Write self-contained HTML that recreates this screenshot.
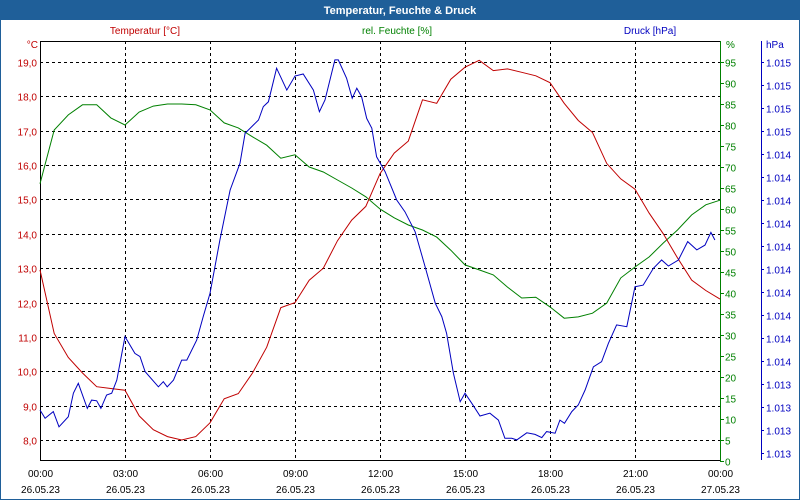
<!DOCTYPE html>
<html><head><meta charset="utf-8"><style>
html,body{margin:0;padding:0;background:#fff;}
svg{display:block;font-family:"Liberation Sans",sans-serif;}
</style></head><body>
<svg id="chart" width="800" height="500" xmlns="http://www.w3.org/2000/svg">
<rect x="0" y="0" width="800" height="500" fill="#fff"/>
<rect x="0.5" y="0.5" width="799" height="499" fill="none" stroke="#1f5f99"/>
<rect x="0" y="0" width="800" height="20" fill="#1f5f99"/>
<text x="400" y="14" text-anchor="middle" font-size="11" font-weight="bold" fill="#fff">Temperatur, Feuchte &amp; Druck</text>
<text x="145" y="34" text-anchor="middle" font-size="10" fill="#c00000">Temperatur [°C]</text>
<text x="397" y="34" text-anchor="middle" font-size="10" fill="#008000">rel. Feuchte [%]</text>
<text x="650" y="34" text-anchor="middle" font-size="10" fill="#0000c0">Druck [hPa]</text>
<text x="38" y="48" text-anchor="end" font-size="10" fill="#c00000">°C</text>
<text x="726" y="48" font-size="10" fill="#008000">%</text>
<text x="766" y="48" font-size="10" fill="#0000c0">hPa</text>
<g id="grid"></g><g id="axes"></g><g id="series"></g>
</svg>
<script>
const tempValues=[12.95,11.1,10.4,9.95,9.55,9.5,9.45,8.7,8.3,8.1,8.0,8.1,8.5,9.2,9.35,9.95,10.7,11.85,12.0,12.65,13.0,13.8,14.4,14.8,15.75,16.35,16.7,17.9,17.8,18.5,18.85,19.05,18.75,18.8,18.7,18.6,18.4,17.8,17.3,16.95,16.05,15.6,15.3,14.6,14.0,13.3,12.65,12.35,12.1];
const humValues=[66,78.8,82.4,84.8,84.8,81.7,80,83.1,84.5,85,85,84.8,83.6,80.5,79.3,77.2,75.2,72.1,72.9,70,68.8,66.9,65,62.9,60,57.9,56.2,55,53.3,50.2,46.7,45.5,44.3,41.4,38.8,39,36.7,34,34.3,35.2,37.6,43.6,46.2,48.6,51.9,55,58.6,61,62.1];
const pressHours=[0,0.18,0.47,0.67,1,1.18,1.35,1.67,1.82,2,2.15,2.35,2.53,2.71,3,3.35,3.53,3.71,4.18,4.35,4.49,4.71,5,5.18,5.53,5.76,6,6.35,6.71,7.06,7.24,7.53,7.71,7.88,8.06,8.35,8.71,9,9.29,9.65,9.86,10.06,10.41,10.53,10.82,11.02,11.18,11.35,11.53,11.71,11.88,12.18,12.59,12.88,13.24,13.59,13.95,14.18,14.35,14.59,14.83,15,15.24,15.53,15.88,16.18,16.41,16.65,16.83,17.18,17.47,17.71,17.88,18.18,18.35,18.51,18.77,19,19.24,19.53,19.82,20.06,20.35,20.71,21,21.29,21.65,21.94,22.18,22.53,22.86,23.18,23.47,23.68,23.82];
const pressValues=[1013.287,1013.251,1013.28,1013.214,1013.258,1013.36,1013.403,1013.294,1013.33,1013.327,1013.294,1013.352,1013.36,1013.417,1013.606,1013.533,1013.519,1013.454,1013.388,1013.41,1013.388,1013.417,1013.504,1013.504,1013.591,1013.693,1013.794,1014.026,1014.243,1014.36,1014.49,1014.526,1014.548,1014.606,1014.627,1014.773,1014.678,1014.739,1014.748,1014.678,1014.584,1014.635,1014.809,1014.809,1014.729,1014.642,1014.686,1014.649,1014.555,1014.512,1014.388,1014.323,1014.2,1014.149,1014.062,1013.91,1013.751,1013.693,1013.62,1013.447,1013.323,1013.36,1013.316,1013.261,1013.273,1013.243,1013.164,1013.164,1013.157,1013.188,1013.181,1013.167,1013.193,1013.186,1013.243,1013.229,1013.28,1013.309,1013.374,1013.475,1013.497,1013.577,1013.657,1013.649,1013.823,1013.83,1013.903,1013.939,1013.913,1013.939,1014.019,1013.983,1014.004,1014.059,1014.026];
const tempTicks=[8,9,10,11,12,13,14,15,16,17,18,19];
const humTicks=[0,5,10,15,20,25,30,35,40,45,50,55,60,65,70,75,80,85,90,95];
const pressTicks=[1013.1,1013.2,1013.3,1013.4,1013.5,1013.6,1013.7,1013.8,1013.9,1014.0,1014.1,1014.2,1014.3,1014.4,1014.5,1014.6,1014.7,1014.8];
const timeLabels=["00:00","03:00","06:00","09:00","12:00","15:00","18:00","21:00","00:00"];
const dateLabels=["26.05.23","26.05.23","26.05.23","26.05.23","26.05.23","26.05.23","26.05.23","26.05.23","27.05.23"];

const L=40,R=720,T=41,B=460;
const xH=h=>L+h*(R-L)/24;
const yT=t=>440-(t-8)*34.36;
const yH=v=>461-v*4.2;
const yP=p=>453-(p-1013.1)*230;
const NS="http://www.w3.org/2000/svg";
function mk(tag,attrs,parent){const e=document.createElementNS(NS,tag);for(const k in attrs)e.setAttribute(k,attrs[k]);parent.appendChild(e);return e;}
const grid=document.getElementById('grid'),axes=document.getElementById('axes'),series=document.getElementById('series');

tempTicks.forEach(t=>{
  const y=Math.round(yT(t))+0.5;
  const g=mk('line',{x1:L,x2:R,y1:y,y2:y,stroke:'#000','stroke-dasharray':'3,3','stroke-width':1},grid);
  
  
  const tx=mk('text',{x:37,y:y+4,'text-anchor':'end','font-size':10,fill:'#c00000'},axes);
  tx.textContent=t.toFixed(1).replace('.',',');
  
  
});
timeLabels.forEach((s,i)=>{
  const x=Math.round(xH(i*3))+0.5;
  if(i>0&&i<8){const g=mk('line',{x1:x,x2:x,y1:T,y2:B,stroke:'#000','stroke-dasharray':'3,3'},grid);
  
  }
  const t1=mk('text',{x:x,y:477,'text-anchor':'middle','font-size':10,fill:'#000'},axes);
  t1.textContent=s;
  
  
  const t2=mk('text',{x:x,y:493,'text-anchor':'middle','font-size':10,fill:'#000'},axes);
  t2.textContent=dateLabels[i];
  
  
});
const box=mk('path',{d:`M${L+0.5},${B+0.5}V${T+0.5}H${R+0.5}M${L},${B+0.5}H${R}`,stroke:'#000',fill:'none'},axes);


const ha=mk('line',{x1:R+0.5,x2:R+0.5,y1:T,y2:B+1,stroke:'#008000'},axes);


humTicks.forEach(v=>{
  const y=Math.round(yH(v))+0.5;
  const tk=mk('line',{x1:R,x2:R+4,y1:y,y2:y,stroke:'#008000'},axes);
  
  
  const t=mk('text',{x:725,y:y+4,'font-size':10,fill:'#008000'},axes);
  t.textContent=v;
  
  
});
const pa=mk('line',{x1:761.5,x2:761.5,y1:T,y2:B,stroke:'#0000c0'},axes);


pressTicks.forEach(v=>{
  const y=Math.round(yP(v))+0.5;
  const tk=mk('line',{x1:761,x2:764,y1:y,y2:y,stroke:'#0000c0'},axes);
  
  
  const t=mk('text',{x:766,y:y+4,'font-size':10,fill:'#0000c0'},axes);
  t.textContent='1.'+String(Math.round(v)).slice(1);
  
  
});
function line(xs,ys,color,name){
  const d=xs.map((x,i)=>(i?'L':'M')+x.toFixed(1)+','+ys[i].toFixed(1)).join('');
  const p=mk('path',{d:d,stroke:color,fill:'none','stroke-width':1},series);
  
  
}
line(humValues.map((v,i)=>xH(i*0.5)),humValues.map(yH),'#008000','humidity-line');
line(tempValues.map((v,i)=>xH(i*0.5)),tempValues.map(yT),'#c00000','temperature-line');
line(pressHours.map(xH),pressValues.map(yP),'#0000c0','pressure-line');
</script>
</body></html>
